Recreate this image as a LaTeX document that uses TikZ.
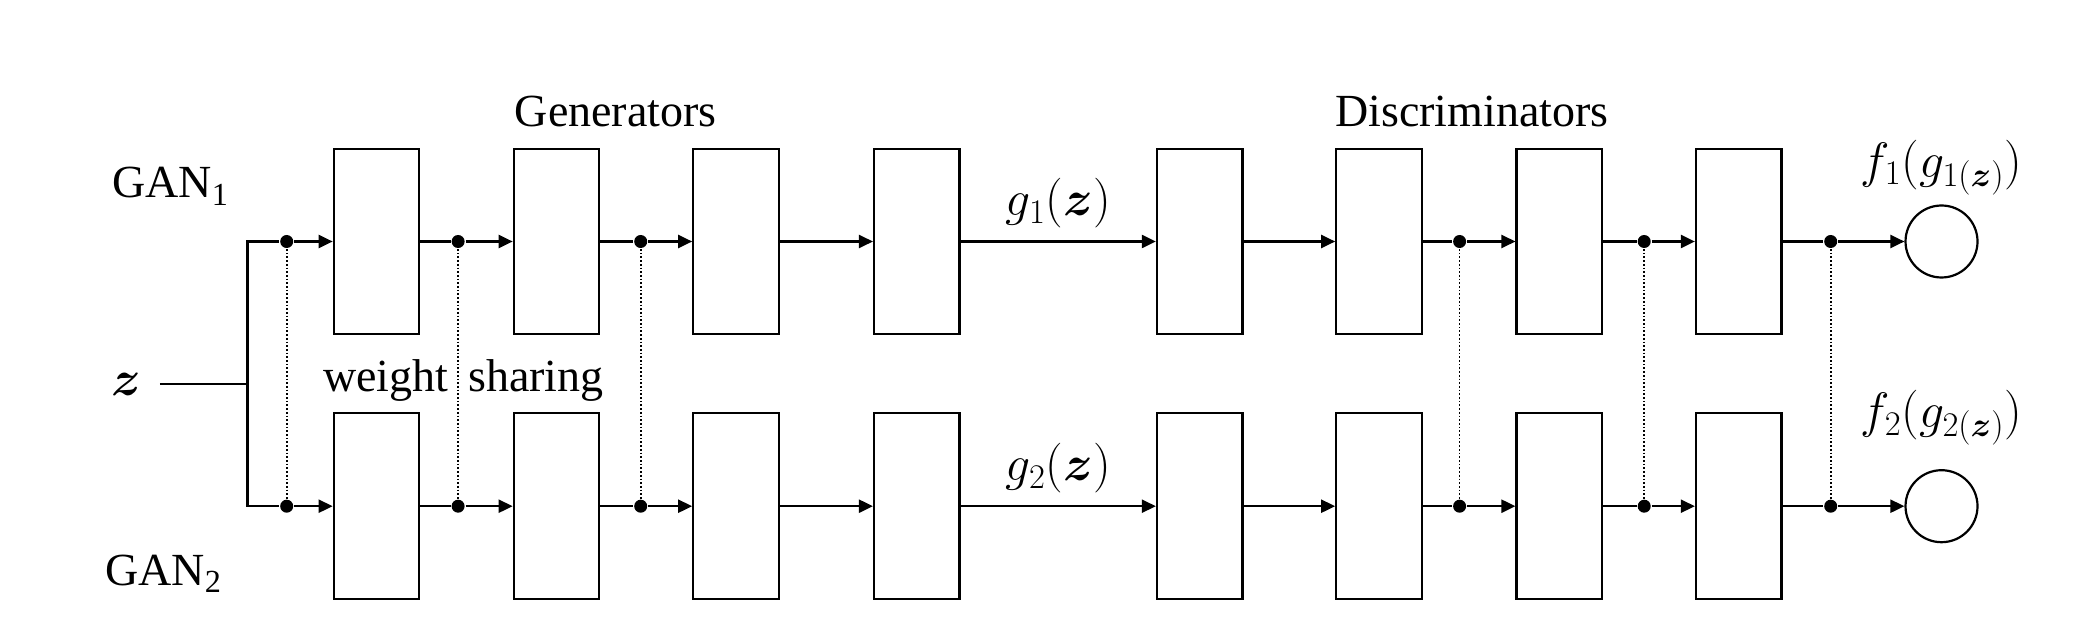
\documentclass[tikz,border=0pt]{standalone}
\usepackage{fontspec}
\setmainfont{Liberation Serif}
\usepackage{amsmath,amssymb}
\usetikzlibrary{arrows.meta,positioning}

\begin{document}
\begin{tikzpicture}[x=0.5pt, y=-0.5pt, line width=1.1pt,
      >={Triangle[length=7pt,width=6.5pt]},
      every node/.append style={font=\fontsize{23}{27}\selectfont, inner sep=1pt}]
    \tikzstyle{layer} = [draw,rectangle,minimum width=42.75pt,minimum height=92.8pt,inner sep=0pt]
    \tikzstyle{joint} = [fill,circle,minimum size=6.5pt,inner sep=0pt]
    \tikzstyle{score} = [draw,circle,minimum size=36pt,inner sep=0pt]
    \tikzstyle{share} = [densely dotted,line width=0.85pt]
    \useasboundingbox (0,0) rectangle (2098,630);
    % headers
    \node (gen) [anchor=base] at (615.7,126.7) {Generators};
    \node (dis) [anchor=base] at (1472,126.7) {Discriminators};
    \node (gana) [anchor=base west] at (109,198) {GAN\textsubscript{1}};
    \node (ganb) [anchor=base west] at (102,585) {GAN\textsubscript{2}};
    \node (wt) [anchor=base] at (385.8,391.7) {weight};
    \node (sh) [anchor=base] at (536,391.7) {sharing};
    % input
    \node (z) [inner xsep=9pt] at (126,384) {$\boldsymbol{z}$};
    \coordinate (split) at (247.4,384);
    % GAN 1
    \node (gen1a) [layer] at (376.5,241.5) {};
    \node (gen2a) [layer] at (556.5,241.5) {};
    \node (gen3a) [layer] at (736,241.5) {};
    \node (gen4a) [layer] at (916.8,241.5) {};
    \node (dis1a) [layer] at (1199.7,241.5) {};
    \node (dis2a) [layer] at (1379,241.5) {};
    \node (dis3a) [layer] at (1559.3,241.5) {};
    \node (dis4a) [layer] at (1738.7,241.5) {};
    \node (outa) [score] at (1941.5,241.5) {};
    \node (fa) [above=3.3pt of outa] {$f_1(g_{1(\boldsymbol{z})})$};
    % GAN 2
    \node (gen1b) [layer] at (376.5,506.2) {};
    \node (gen2b) [layer] at (556.5,506.2) {};
    \node (gen3b) [layer] at (736,506.2) {};
    \node (gen4b) [layer] at (916.8,506.2) {};
    \node (dis1b) [layer] at (1199.7,506.2) {};
    \node (dis2b) [layer] at (1379,506.2) {};
    \node (dis3b) [layer] at (1559.3,506.2) {};
    \node (dis4b) [layer] at (1738.7,506.2) {};
    \node (outb) [score] at (1941.5,506.2) {};
    \node (fb) [above=10.5pt of outb] {$f_2(g_{2(\boldsymbol{z})})$};
    % shared joints
    \node (sa1) [joint] at (286.7,241.5) {};
    \node (sa2) [joint] at (458.1,241.5) {};
    \node (sa3) [joint] at (640.7,241.5) {};
    \node (sa4) [joint] at (1459.6,241.5) {};
    \node (sa5) [joint] at (1644.2,241.5) {};
    \node (sa6) [joint] at (1830.7,241.5) {};
    \node (sb1) [joint] at (286.7,506.2) {};
    \node (sb2) [joint] at (458.1,506.2) {};
    \node (sb3) [joint] at (640.7,506.2) {};
    \node (sb4) [joint] at (1459.6,506.2) {};
    \node (sb5) [joint] at (1644.2,506.2) {};
    \node (sb6) [joint] at (1830.7,506.2) {};
    % connections
    \draw (z) -- (split);
    \draw (split) |- (sa1);
    \draw (split) |- (sb1);
    \draw[->] (sa1) -- (gen1a);
    \draw (gen1a) -- (sa2);
    \draw[->] (sa2) -- (gen2a);
    \draw (gen2a) -- (sa3);
    \draw[->] (sa3) -- (gen3a);
    \draw[->] (gen3a) -- (gen4a);
    \draw[->] (gen4a) -- node[above=5pt] (g1) {$g_1(\boldsymbol{z})$} (dis1a);
    \draw[->] (dis1a) -- (dis2a);
    \draw (dis2a) -- (sa4);
    \draw[->] (sa4) -- (dis3a);
    \draw (dis3a) -- (sa5);
    \draw[->] (sa5) -- (dis4a);
    \draw (dis4a) -- (sa6);
    \draw[->] (sa6) -- (outa);
    \draw[->] (sb1) -- (gen1b);
    \draw (gen1b) -- (sb2);
    \draw[->] (sb2) -- (gen2b);
    \draw (gen2b) -- (sb3);
    \draw[->] (sb3) -- (gen3b);
    \draw[->] (gen3b) -- (gen4b);
    \draw[->] (gen4b) -- node[above=5pt] (g2) {$g_2(\boldsymbol{z})$} (dis1b);
    \draw[->] (dis1b) -- (dis2b);
    \draw (dis2b) -- (sb4);
    \draw[->] (sb4) -- (dis3b);
    \draw (dis3b) -- (sb5);
    \draw[->] (sb5) -- (dis4b);
    \draw (dis4b) -- (sb6);
    \draw[->] (sb6) -- (outb);
    % weight sharing
    \draw[share] (sa1) -- (sb1);
    \draw[share] (sa2) -- (sb2);
    \draw[share] (sa3) -- (sb3);
    \draw[share] (sa4) -- (sb4);
    \draw[share] (sa5) -- (sb5);
    \draw[share] (sa6) -- (sb6);
\end{tikzpicture}
\end{document}
